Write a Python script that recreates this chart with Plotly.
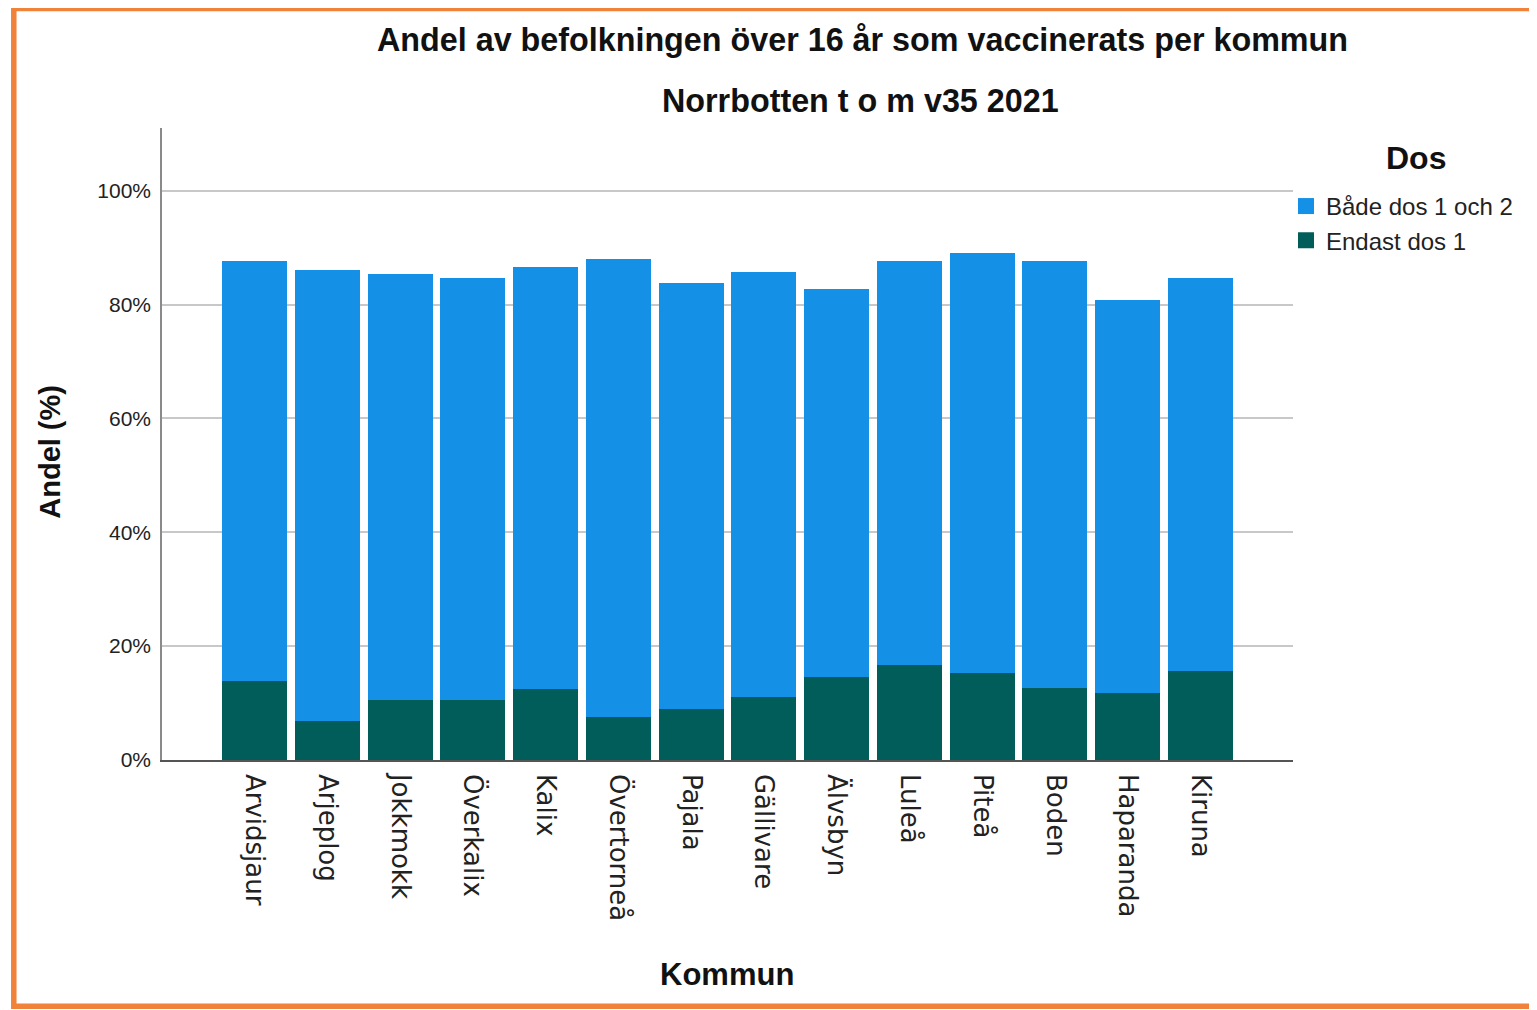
import plotly.graph_objects as go

# ---- data ----
kommuner = ["Arvidsjaur", "Arjeplog", "Jokkmokk", "Överkalix", "Kalix", "Övertorneå",
            "Pajala", "Gällivare", "Älvsbyn", "Luleå", "Piteå", "Boden", "Haparanda", "Kiruna"]
endast_dos1 = [13.8, 6.9, 10.5, 10.6, 12.4, 7.6, 8.9, 11.1, 14.5, 16.6, 15.2, 12.7, 11.7, 15.6]
bade_dos12 = [73.9, 79.2, 74.9, 74.1, 74.2, 80.4, 74.8, 74.6, 68.2, 71.0, 73.8, 74.9, 69.1, 69.1]
y_ticks = [0, 20, 40, 60, 80, 100]
series_names = ["Endast dos 1", "Både dos 1 och 2"]

title1 = "Andel av befolkningen över 16 år som vaccinerats per kommun"
title2 = "Norrbotten t o m v35 2021"

# ---- layout geometry (page pixels; the page body adds an 8px margin) ----
OFF = 8
W, H = 1537 - OFF, 1010 - OFF
L, R, T, B = 162, 1293, 128, 760.5          # plot area in page pixels
PW, PH = R - L, B - T


def px_x(x):
    return (x - L) / PW


def px_y(y):
    return (B - y) / PH


FONT = "Liberation Sans, Arial, sans-serif"
BLUE = "#1490e6"
TEAL = "#005d5a"
colors = [TEAL, BLUE]

fig = go.Figure()
for name, vals, col in zip(series_names, [endast_dos1, bade_dos12], colors):
    fig.add_trace(go.Bar(x=kommuner, y=vals, name=name, showlegend=False,
                         legendgroup=name,
                         marker=dict(color=col, line=dict(width=0))))
# legend entries with larger square swatches
for name, col in zip(series_names, colors):
    fig.add_trace(go.Scatter(x=[None], y=[None], mode="markers", name=name,
                             legendgroup=name,
                             marker=dict(symbol="square", size=23, color=col)))

n = len(kommuner)
fig.update_layout(
    width=W, height=H,
    barmode="stack",
    bargap=0.107,
    paper_bgcolor="white",
    plot_bgcolor="white",
    margin=dict(l=L - OFF, r=W - (R - OFF), t=T - OFF, b=H - (B - OFF), pad=0),
    font=dict(family=FONT, color="#222222"),
    showlegend=True,
    legend=dict(
        x=px_x(1286), y=px_y(184), xanchor="left", yanchor="top",
        traceorder="reversed",
        font=dict(size=24, family=FONT, color="#222222"),
        bgcolor="rgba(0,0,0,0)",
        itemwidth=30,
        tracegroupgap=0,
    ),
    xaxis=dict(
        range=[-1.271, n - 1 + 1.271],
        tickangle=90,
        tickfont=dict(size=26, family="DejaVu Sans, sans-serif", color="#222222"),
        showline=True, linecolor="#555555", linewidth=1.5,
        showgrid=False, ticks="", ticklabelstandoff=7,
        zeroline=False,
    ),
    yaxis=dict(
        range=[0, 111],
        tickvals=y_ticks,
        ticktext=[f"{v}%" for v in y_ticks],
        tickfont=dict(size=21, family=FONT, color="#222222"),
        showline=True, linecolor="#8a8a8a", linewidth=1.5,
        showgrid=True, gridcolor="#c8c8c8", gridwidth=1.5,
        zeroline=False, ticks="", ticklabelstandoff=5,
    ),
    annotations=[
        dict(text=f"<b>{title1}</b>", x=px_x(862), y=px_y(40), xref="paper", yref="paper",
             showarrow=False, xanchor="center", yanchor="middle",
             font=dict(size=32.3, family=FONT, color="#111111")),
        dict(text=f"<b>{title2}</b>", x=px_x(860), y=px_y(101), xref="paper", yref="paper",
             showarrow=False, xanchor="center", yanchor="middle",
             font=dict(size=32.3, family=FONT, color="#111111")),
        dict(text="<b>Kommun</b>", x=px_x(727), y=px_y(975), xref="paper", yref="paper",
             showarrow=False, xanchor="center", yanchor="middle",
             font=dict(size=31, family=FONT, color="#111111")),
        dict(text="<b>Andel (%)</b>", x=px_x(50), y=px_y(452), xref="paper", yref="paper",
             showarrow=False, xanchor="center", yanchor="middle", textangle=-90,
             font=dict(size=29, family=FONT, color="#111111")),
        dict(text="<b>Dos</b>", x=px_x(1416), y=px_y(158), xref="paper", yref="paper",
             showarrow=False, xanchor="center", yanchor="middle",
             font=dict(size=32, family=FONT, color="#111111")),
    ],
    shapes=[
        dict(type="rect", xref="paper", yref="paper",
             x0=px_x(13.8), x1=px_x(1560), y0=px_y(8.3), y1=px_y(1007),
             line=dict(color="#f0823a", width=5.5), fillcolor="rgba(0,0,0,0)",
             layer="above"),
    ],
)

fig.write_html("out.html")
